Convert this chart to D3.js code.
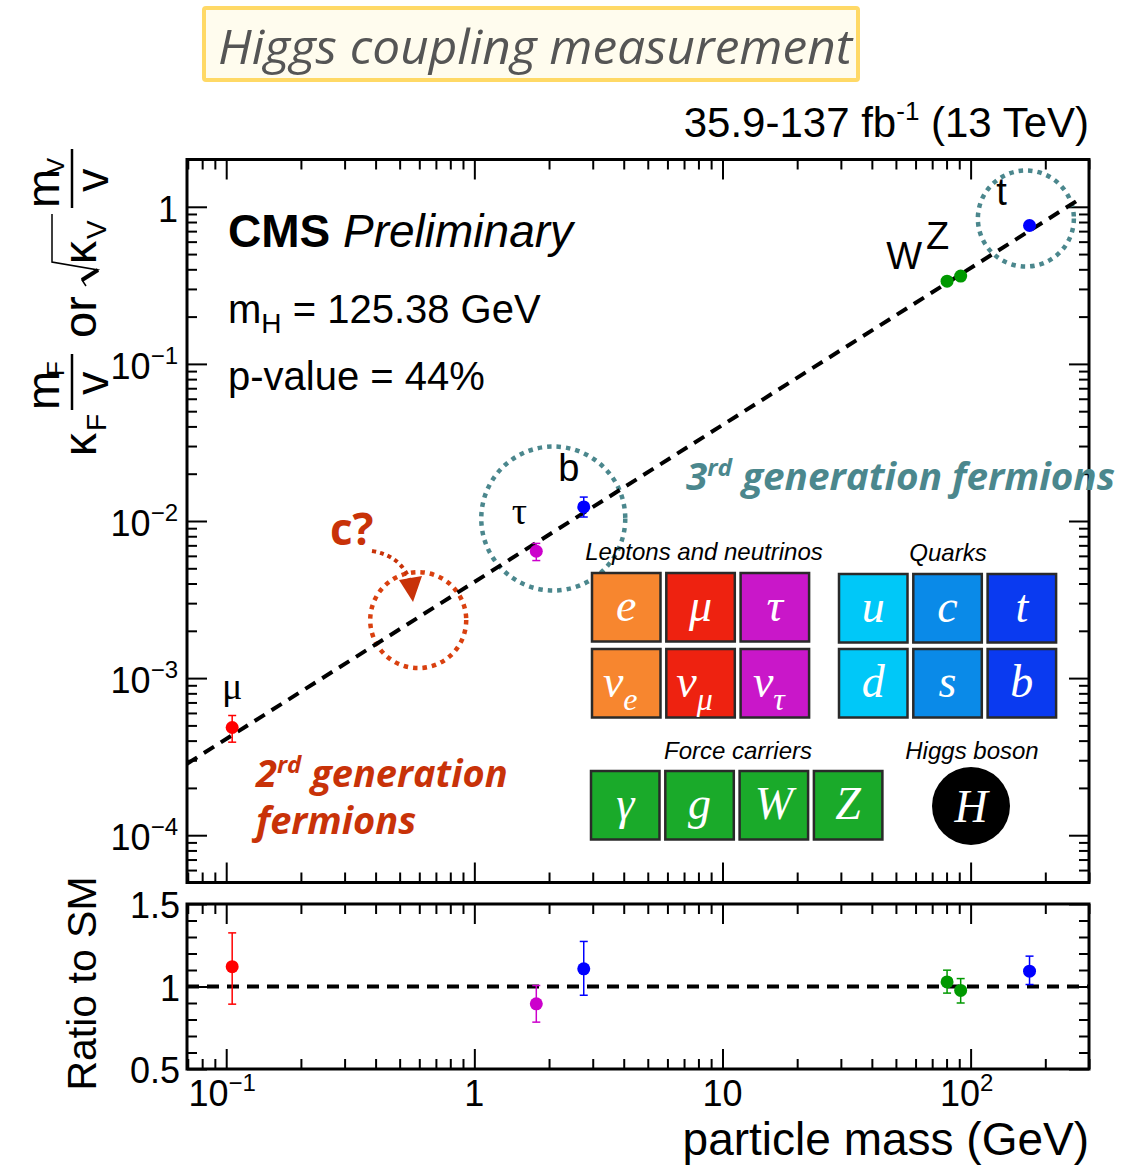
<!DOCTYPE html>
<html>
<head>
<meta charset="utf-8">
<script src="https://cdn.jsdelivr.net/npm/d3@7"></script>
<style>
  body { margin: 0; background: #fff; }
  svg { display: block; }
  text { font-family: "Liberation Sans", Arial, sans-serif; }
</style>
</head>
<body>
<svg id="chart"></svg>
<script>
const particles = ['μ', 'τ', 'b', 'W', 'Z', 't'];
const masses = [0.1057, 1.777, 2.76, 80.38, 91.19, 172.76];
const couplings = [4.85e-4, 6.42e-3, 1.23e-2, 0.336, 0.362, 0.760];
const couplingHi = [5.78e-4, 7.2e-3, 1.42e-2, 0.348, 0.376, 0.79];
const couplingLo = [3.91e-4, 5.6e-3, 1.06e-2, 0.324, 0.348, 0.73];
const ratios = [1.12, 0.895, 1.107, 1.028, 0.976, 1.093];
const ratioHi = [1.325, 1.006, 1.273, 1.099, 1.048, 1.184];
const ratioLo = [0.893, 0.784, 0.947, 0.96, 0.90, 1.012];
const pointColors = ['#ff0000', '#cc00cc', '#0000ff', '#009900', '#009900', '#0000ff'];

// SM expectation line
const smMass = [0.0695, 280];
const smCoupling = [2.85e-4, 1.14];

// tick labels
const xTicks = [0.1, 1, 10, 100];
const xTickBase = ['10', '1', '10', '10'];
const xTickExp = ['−1', '', '', '2'];
const yTicks = [1, 0.1, 0.01, 0.001, 0.0001];
const yTickBase = ['1', '10', '10', '10', '10'];
const yTickExp = ['', '−1', '−2', '−3', '−4'];
const ratioTicks = [0.5, 1, 1.5];
const ratioTickLabels = ['0.5', '1', '1.5'];

// particle table
const leptonSymbols = [['e', 'μ', 'τ'], ['ν', 'ν', 'ν']];
const leptonSubs = [['', '', ''], ['e', 'μ', 'τ']];
const leptonColors = ['#f7862f', '#ee2210', '#c917c9'];
const quarkSymbols = [['u', 'c', 't'], ['d', 's', 'b']];
const quarkColors = ['#00c8f8', '#0a8ae8', '#0a3af0'];
const bosonSymbols = ['γ', 'g', 'W', 'Z'];

const W = 1138, H = 1165;
const left = 187, right = 1089;
const mainTop = 159.5, mainBottom = 882.5;
const ratioTop = 904, ratioBottom = 1069;

const svg = d3.select('#chart').attr('width', W).attr('height', H);

const x = d3.scaleLog().domain([0.0695, 300]).range([left, right]);
const y = d3.scaleLog().domain([5e-5, 2]).range([mainBottom, mainTop]);
const yr = d3.scaleLinear().domain([0.5, 1.5]).range([ratioBottom, ratioTop]);

const decades = d3.range(-5, 3);
const minorLog = (lo, hi) => decades.flatMap(e => d3.range(2, 10).map(m => m * Math.pow(10, e)))
  .filter(v => v >= lo * 0.999 && v <= hi * 1.001);
const xMinor = minorLog(0.0695, 300);
const yMinor = minorLog(5e-5, 2);
const ratioMinor = d3.range(6, 15).filter(d => d !== 10).map(d => d / 10);

// title box
svg.append('rect')
  .attr('x', 204).attr('y', 8).attr('width', 654).attr('height', 72)
  .attr('fill', '#fffcee').attr('stroke', '#ffd966').attr('stroke-width', 4).attr('rx', 2);
svg.append('text')
  .attr('x', 218).attr('y', 64)
  .style('font-family', '"Open Sans", sans-serif')
  .style('font-style', 'italic').style('font-weight', 400)
  .attr('font-size', 48).attr('fill', '#555')
  .attr('textLength', 634).attr('lengthAdjust', 'spacingAndGlyphs')
  .text('Higgs coupling measurement');

// luminosity label
const lumi = svg.append('text')
  .attr('x', right).attr('y', 137).attr('text-anchor', 'end').attr('font-size', 42);
lumi.append('tspan').text('35.9-137 fb');
lumi.append('tspan').attr('font-size', 26).attr('dy', -17).text('-1');
lumi.append('tspan').attr('dy', 17).text(' (13 TeV)');

// ticks helper
function drawTicks(g, axis, transform, values, size) {
  g.append('g')
    .attr('transform', transform)
    .call(axis.tickValues(values).tickSize(-size).tickFormat(''))
    .call(a => a.select('.domain').remove())
    .call(a => a.selectAll('line').attr('stroke', '#000').attr('stroke-width', 2));
}

const axes = svg.append('g');
// main panel
drawTicks(axes, d3.axisBottom(x), `translate(0,${mainBottom})`, xTicks, 20);
drawTicks(axes, d3.axisBottom(x), `translate(0,${mainBottom})`, xMinor, 10);
drawTicks(axes, d3.axisTop(x), `translate(0,${mainTop})`, xTicks, 20);
drawTicks(axes, d3.axisTop(x), `translate(0,${mainTop})`, xMinor, 10);
drawTicks(axes, d3.axisLeft(y), `translate(${left},0)`, yTicks, 20);
drawTicks(axes, d3.axisLeft(y), `translate(${left},0)`, yMinor, 10);
drawTicks(axes, d3.axisRight(y), `translate(${right},0)`, yTicks, 20);
drawTicks(axes, d3.axisRight(y), `translate(${right},0)`, yMinor, 10);
// ratio panel
drawTicks(axes, d3.axisBottom(x), `translate(0,${ratioBottom})`, xTicks, 20);
drawTicks(axes, d3.axisBottom(x), `translate(0,${ratioBottom})`, xMinor, 10);
drawTicks(axes, d3.axisTop(x), `translate(0,${ratioTop})`, xTicks, 20);
drawTicks(axes, d3.axisTop(x), `translate(0,${ratioTop})`, xMinor, 10);
drawTicks(axes, d3.axisLeft(yr), `translate(${left},0)`, ratioTicks, 20);
drawTicks(axes, d3.axisLeft(yr), `translate(${left},0)`, ratioMinor, 10);
drawTicks(axes, d3.axisRight(yr), `translate(${right},0)`, ratioTicks, 20);
drawTicks(axes, d3.axisRight(yr), `translate(${right},0)`, ratioMinor, 10);

// frames
[[mainTop, mainBottom], [ratioTop, ratioBottom]].forEach(([t, b]) => {
  svg.append('rect')
    .attr('x', left).attr('y', t).attr('width', right - left).attr('height', b - t)
    .attr('fill', 'none').attr('stroke', '#000').attr('stroke-width', 3);
});

// tick labels
xTicks.forEach((v, i) => {
  const t = svg.append('text').attr('x', x(v) - (xTickExp[i] ? 4 : 0)).attr('y', 1106)
    .attr('text-anchor', 'middle').attr('font-size', 36);
  t.append('tspan').text(xTickBase[i]);
  if (xTickExp[i]) t.append('tspan').attr('font-size', 24).attr('dy', -15).text(xTickExp[i]);
});
yTicks.forEach((v, i) => {
  const t = svg.append('text').attr('x', 178).attr('y', y(v) + 15)
    .attr('text-anchor', 'end').attr('font-size', 36);
  t.append('tspan').text(yTickBase[i]);
  if (yTickExp[i]) t.append('tspan').attr('font-size', 24).attr('dy', -15).text(yTickExp[i]);
});
ratioTicks.forEach((v, i) => {
  svg.append('text').attr('x', 180).attr('y', yr(v) + 14)
    .attr('text-anchor', 'end').attr('font-size', 36).text(ratioTickLabels[i]);
});

// axis titles
svg.append('text')
  .attr('x', right).attr('y', 1155).attr('text-anchor', 'end').attr('font-size', 46)
  .text('particle mass (GeV)');
svg.append('text')
  .attr('transform', `translate(96,${(ratioTop + ratioBottom) / 2 - 3}) rotate(-90)`)
  .attr('text-anchor', 'middle').attr('font-size', 41)
  .text('Ratio to SM');

// y title: κF mF/v or √κV mV/v
const yt = svg.append('g').attr('transform', 'translate(96,458) rotate(-90)');
const put = (u, w, s, size) => yt.append('text').attr('x', u).attr('y', w).attr('font-size', size).text(s);
put(2, 0, 'κ', 46); put(27, 10, 'F', 28);
put(48, -37, 'm', 47); put(82, -32, 'F', 24);
yt.append('line').attr('x1', 48).attr('x2', 104).attr('y1', -24).attr('y2', -24)
  .attr('stroke', '#000').attr('stroke-width', 2.5);
put(63, 12, 'v', 47);
put(120, 0, 'or', 47);
yt.append('path').attr('d', 'M172,-10 L178,-14 L188,2 L196,-44 L244,-44')
  .attr('fill', 'none').attr('stroke', '#000').attr('stroke-width', 1.5);
yt.append('path').attr('d', 'M178,-14 L188,2').attr('stroke', '#000').attr('stroke-width', 4);
put(194, 0, 'κ', 46); put(219, 10, 'V', 28);
put(250, -37, 'm', 47); put(284, -32, 'V', 24);
yt.append('line').attr('x1', 250).attr('x2', 309).attr('y1', -24).attr('y2', -24)
  .attr('stroke', '#000').attr('stroke-width', 2.5);
put(266, 12, 'v', 47);

// CMS labels
const cms = svg.append('text').attr('x', 228).attr('y', 247).attr('font-size', 46);
cms.append('tspan').attr('font-weight', 'bold').text('CMS');
cms.append('tspan').attr('font-style', 'italic').text(' Preliminary');
const mh = svg.append('text').attr('x', 228).attr('y', 323).attr('font-size', 40);
mh.append('tspan').text('m');
mh.append('tspan').attr('font-size', 28).attr('dy', 10).text('H');
mh.append('tspan').attr('dy', -10).text(' = 125.38 GeV');
svg.append('text').attr('x', 228).attr('y', 390).attr('font-size', 40).text('p-value = 44%');

// annotations: circles
const teal = '#4b878d';
const orange = '#d9400f';
const circles = [
  { m: 167, v: 0.842, r: 48, c: teal },
  { m: 2.08, v: 0.01037, r: 72, c: teal },
  { m: 0.594, v: 2.34e-3, r: 48, c: orange }
];
svg.append('g').selectAll('circle').data(circles).join('circle')
  .attr('cx', d => x(d.m)).attr('cy', d => y(d.v)).attr('r', d => d.r)
  .attr('fill', 'none').attr('stroke', d => d.c).attr('stroke-width', 4.5)
  .attr('stroke-dasharray', '4.5 5');

// c? arrow
svg.append('text').attr('x', 330).attr('y', 545).attr('font-size', 44)
  .style('font-family', '"Open Sans", sans-serif').attr('font-weight', 'bold')
  .attr('fill', '#c83208').text('c?');
svg.append('path').attr('d', 'M372,551 Q402,556 410,582')
  .attr('fill', 'none').attr('stroke', '#c83208').attr('stroke-width', 4).attr('stroke-dasharray', '4 4');
svg.append('path').attr('d', 'M399,580 L422,576 L413,602 Z').attr('fill', '#c83208');

// generation labels
const gen3 = svg.append('text').attr('x', 686).attr('y', 490).attr('font-size', 38)
  .style('font-family', '"Open Sans", sans-serif').attr('font-weight', 'bold')
  .attr('font-style', 'italic').attr('fill', teal)
  .attr('textLength', 429).attr('lengthAdjust', 'spacingAndGlyphs');
gen3.append('tspan').text('3');
gen3.append('tspan').attr('font-size', 24).attr('dy', -14).text('rd');
gen3.append('tspan').attr('dy', 14).text(' generation fermions');
const gen2 = svg.append('text').attr('x', 256).attr('y', 787).attr('font-size', 38)
  .style('font-family', '"Open Sans", sans-serif').attr('font-weight', 'bold')
  .attr('font-style', 'italic').attr('fill', '#c83208');
gen2.append('tspan').text('2');
gen2.append('tspan').attr('font-size', 24).attr('dy', -14).text('rd');
gen2.append('tspan').attr('dy', 14).text(' generation');
svg.append('text').attr('x', 256).attr('y', 834).attr('font-size', 38)
  .style('font-family', '"Open Sans", sans-serif').attr('font-weight', 'bold')
  .attr('font-style', 'italic').attr('fill', '#c83208').text('fermions');

// SM lines
svg.append('path')
  .attr('d', d3.line().x(d => x(d[0])).y(d => y(d[1]))(d3.zip(smMass, smCoupling)))
  .attr('fill', 'none').attr('stroke', '#000').attr('stroke-width', 4).attr('stroke-dasharray', '12 8');
svg.append('line')
  .attr('x1', x(0.0695)).attr('x2', x(300)).attr('y1', yr(1)).attr('y2', yr(1))
  .attr('stroke', '#000').attr('stroke-width', 4).attr('stroke-dasharray', '12 8');

// points
const idx = d3.range(particles.length);
function drawPoints(yScale, val, hi, lo) {
  const g = svg.append('g');
  const p = g.selectAll('g').data(idx).join('g').attr('stroke', i => pointColors[i]).attr('fill', i => pointColors[i]);
  p.append('line').attr('x1', i => x(masses[i])).attr('x2', i => x(masses[i]))
    .attr('y1', i => yScale(hi[i])).attr('y2', i => yScale(lo[i])).attr('stroke-width', 1.5);
  [hi, lo].forEach(arr => p.append('line')
    .attr('x1', i => x(masses[i]) - 4).attr('x2', i => x(masses[i]) + 4)
    .attr('y1', i => yScale(arr[i])).attr('y2', i => yScale(arr[i])).attr('stroke-width', 1.5));
  p.append('circle').attr('cx', i => x(masses[i])).attr('cy', i => yScale(val[i])).attr('r', 6.5).attr('stroke', 'none');
}
drawPoints(y, couplings, couplingHi, couplingLo);
drawPoints(yr, ratios, ratioHi, ratioLo);

// particle labels near points
const labelOffsets = [[0, -28], [-17, -27], [-15, -26], [-43, -12], [-23, -27], [-28, -21]];
svg.append('g').selectAll('text').data(idx).join('text')
  .attr('x', i => x(masses[i]) + labelOffsets[i][0])
  .attr('y', i => y(couplings[i]) + labelOffsets[i][1])
  .attr('text-anchor', 'middle').attr('font-size', 38)
  .style('font-family', i => i < 2 ? '"Liberation Serif", serif' : null)
  .text(i => particles[i]);

// particle table
const tile = 68.5, step = 74.3;
const tiles = svg.append('g');
function drawTile(x0, y0, color, sym, sub) {
  tiles.append('rect').attr('x', x0).attr('y', y0).attr('width', tile).attr('height', tile)
    .attr('fill', color).attr('stroke', '#2a2a2a').attr('stroke-width', 2.5);
  const t = tiles.append('text').attr('x', x0 + tile / 2 - (sub ? 6 : 0)).attr('y', y0 + tile / 2 + 14)
    .attr('text-anchor', 'middle').attr('fill', '#fff').attr('font-size', 46)
    .style('font-family', '"Liberation Serif", serif').attr('font-style', 'italic');
  t.append('tspan').text(sym);
  if (sub) t.append('tspan').attr('font-size', 32).attr('dy', 13).text(sub);
}
leptonSymbols.forEach((row, r) => row.forEach((s, c) =>
  drawTile(592 + c * step, 573 + r * 76, leptonColors[c], s, leptonSubs[r][c])));
quarkSymbols.forEach((row, r) => row.forEach((s, c) =>
  drawTile(839 + c * step, 574 + r * 75, quarkColors[c], s, '')));
bosonSymbols.forEach((s, c) => drawTile(591 + c * step, 771, '#1aaa2a', s, ''));
tiles.append('circle').attr('cx', 971).attr('cy', 806).attr('r', 39).attr('fill', '#000');
tiles.append('text').attr('x', 971).attr('y', 822).attr('text-anchor', 'middle')
  .attr('fill', '#fff').attr('font-size', 46).attr('font-style', 'italic')
  .style('font-family', '"Liberation Serif", serif').text('H');
[['Leptons and neutrinos', 704, 560], ['Quarks', 948, 561], ['Force carriers', 738, 759], ['Higgs boson', 972, 759]]
  .forEach(([s, cx, cy]) => tiles.append('text').attr('x', cx).attr('y', cy)
    .attr('text-anchor', 'middle').attr('font-size', 24).attr('font-style', 'italic').text(s));
</script>
</body>
</html>
